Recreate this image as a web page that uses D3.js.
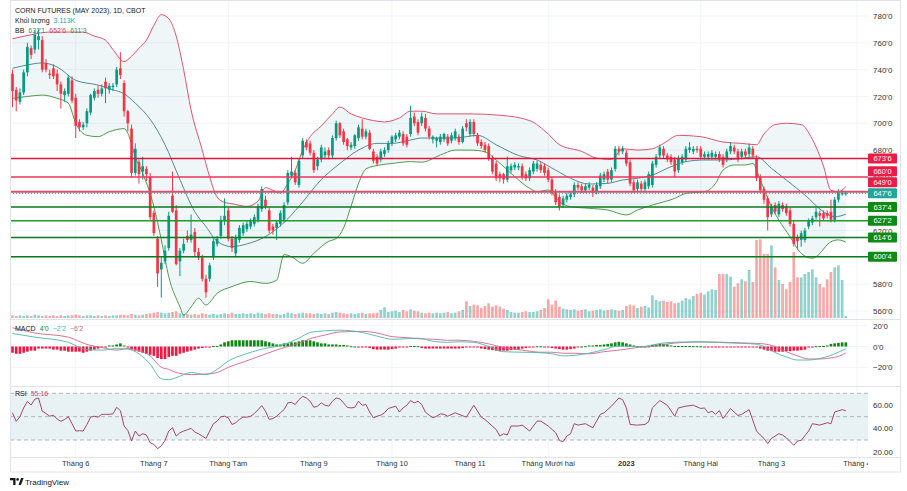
<!DOCTYPE html>
<html>
<head>
<meta charset="utf-8">
<script src="https://cdn.jsdelivr.net/npm/d3@7"></script>
<style>
  body { margin: 0; background: #fff; }
  svg { display: block; font-family: "Liberation Sans", Arial, sans-serif; }
</style>
</head>
<body>
<svg id="chart" width="907" height="491"></svg>
<script>
// ---- data (bar index 0 = 6 May 2022) ----
// [open, high, low, close]
const ohlc = [
  [737,740,712,724],[725,727,709,717],[716,726,714,723],[723,740,721,738],[738,760,735,757],
  [756,758,748,751],[755,769,752,766],[762,770,755,765],[762,765,738,740],[745,748,738,740],
  [737,740,733,736],[741,744,733,735],[737,740,724,729],[729,731,711,722],[721,726,716,724],
  [722,736,720,734],[732,735,715,717],[719,722,689,698],[701,703,694,697],[697,701,695,699],
  [700,711,697,709],[708,722,706,721],[719,726,717,724],[725,728,719,722],[722,729,720,726],
  [731,734,715,726],[725,730,722,728],[727,730,724,728],[729,742,727,740],[741,753,733,736],
  [730,732,705,709],[709,710,694,700],[696,699,660,663],[663,685,661,681],[671,673,655,662],
  [664,675,658,668],[666,668,657,662],[660,663,628,630],[633,635,616,618],[614,616,578,588],
  [591,600,570,596],[597,609,595,605],[607,634,605,631],[646,664,633,634],[635,639,594,595],
  [597,607,586,605],[605,614,603,610],[616,620,611,613],[613,632,611,617],[619,622,601,604],
  [604,607,598,600],[600,602,582,584],[584,587,570,574],[584,596,582,594],[600,614,598,612],
  [610,616,608,614],[616,631,614,628],[627,644,624,631],[635,637,612,614],[614,616,604,607],
  [603,617,600,615],[613,624,611,622],[618,626,616,624],[621,627,619,625],[623,629,621,627],
  [625,632,623,630],[628,640,626,638],[636,653,634,651],[643,646,636,638],[635,637,618,620],
  [623,625,617,620],[622,628,613,626],[625,635,623,633],[628,641,626,639],[641,665,639,663],
  [661,675,659,664],[663,665,654,656],[654,674,652,672],[676,689,674,687],[686,688,680,682],
  [685,687,676,678],[678,680,663,665],[668,675,665,673],[673,684,671,682],[676,682,673,679],
  [680,682,673,676],[676,691,674,689],[689,702,687,700],[700,701,689,691],[694,696,684,686],
  [688,689,680,683],[682,686,680,684],[683,692,681,691],[689,699,687,697],[696,703,688,690],
  [690,696,688,694],[693,695,680,681],[679,681,670,672],[675,677,668,670],[673,681,671,679],
  [677,682,675,680],[680,687,678,685],[685,691,683,690],[688,693,686,691],[690,695,688,693],
  [692,694,683,685],[690,692,682,684],[692,713,690,704],[705,708,698,700],[701,703,691,693],
  [700,708,698,705],[704,707,694,696],[696,698,688,690],[688,691,685,690],[687,690,682,689],
  [686,692,684,690],[688,693,686,692],[690,692,683,685],[687,693,685,691],[689,696,687,694],
  [690,692,684,686],[686,698,685,696],[700,703,694,697],[692,703,690,701],[701,703,690,692],
  [691,693,683,685],[686,688,681,683],[684,686,678,680],[683,685,672,674],[674,676,662,664],
  [670,672,657,659],[662,664,656,659],[662,663,655,658],[658,675,656,668],[665,670,663,668],
  [667,671,665,669],[667,670,665,668],[668,670,658,660],[662,664,657,659],[659,667,657,665],
  [664,672,662,670],[666,672,664,670],[669,671,663,665],[668,670,661,663],[665,667,656,658],
  [658,660,646,648],[649,651,639,641],[645,647,635,638],[639,646,637,644],[643,648,641,646],
  [645,649,643,647],[647,656,645,654],[654,656,650,652],[653,655,648,650],[650,655,648,653],
  [652,656,650,654],[652,654,645,648],[649,656,647,654],[653,663,651,661],[658,664,656,662],
  [664,666,655,658],[658,667,656,665],[666,683,664,681],[681,683,676,679],[679,683,677,681],
  [678,680,668,670],[671,673,653,655],[656,658,648,650],[651,658,649,656],[655,657,649,651],
  [651,658,649,656],[653,664,651,662],[654,672,652,670],[669,677,667,675],[676,684,674,682],
  [681,683,674,676],[676,678,671,673],[675,677,669,671],[673,675,660,664],[665,676,663,674],
  [671,677,669,675],[673,683,671,681],[680,686,678,682],[679,683,677,681],[681,683,678,680],
  [681,683,673,675],[675,679,673,677],[675,679,673,677],[675,680,673,678],[675,679,673,677],
  [677,679,671,673],[675,677,667,669],[673,681,671,679],[679,686,677,683],[682,684,677,679],
  [679,681,671,673],[675,681,673,679],[679,681,674,676],[677,685,675,682],[681,683,674,676],
  [674,676,657,659],[660,662,648,650],[651,653,640,643],[644,646,620,630],[632,640,630,638],
  [639,641,632,634],[632,642,630,640],[639,641,634,636],[638,640,631,633],[635,637,623,625],
  [625,627,608,610],[615,617,606,612],[613,620,608,618],[613,622,611,620],[623,629,621,627],
  [626,631,624,629],[630,637,628,634],[633,635,623,631],[633,635,627,629],[633,635,629,631],
  [634,643,626,628],[628,645,626,643],[643,651,641,649],[647,650,646,648],[647,649,646,647.75]
];

// volume, thousands of contracts
const volumes = [
  4,3,4,3,4,3,5,4,3,4,  3,4,3,4,3,4,4,5,4,3,  4,4,3,4,3,4,3,4,4,5,
  5,4,6,5,4,5,6,7,8,9,  8,7,8,9,10,7,6,6,5,6,  5,7,6,5,6,5,6,7,6,8,
  6,6,7,6,7,6,8,7,6,7,  6,6,5,6,8,7,6,7,8,7,  7,6,7,6,7,6,8,9,8,7,
  6,7,6,7,8,6,7,7,8,12, 16,9,10,11,9,12,10,13,11,10, 8,7,8,7,8,7,8,9,7,8,
  10,12,25,18,20,19,15,18,22,17, 19,17,14,12,9,8,8,9,10,9, 9,10,12,15,28,20,26,17,14,13,
  12,13,11,12,13,10,11,12,13,11, 12,13,12,11,12,18,20,19,15,17, 18,16,34,27,25,26,24,25,22,23,
  26,30,28,33,36,38,35,40,43,42, 66,66,66,62,47,52,58,55,72,54, 117,118,96,96,109,76,57,51,43,54,
  99,61,61,66,69,73,61,51,46,58, 69,76,79,57,3.113
];

// Bollinger Bands (20, 2): [bar index, value]
const bbUpper = [
  [0,763],[5,766],[10,768],[15,768],[19,768],[22,765],[25,762],[27,755],[30,746],[32,750],
  [34,756],[36,762],[38,773],[40,781],[42,778],[44,765],[46,740],[48,710],[51,680],[53,660],
  [55,645],[57,641],[59,640],[63,638],[66,642],[68,652],[70,650],[72,648],[74,655],[76,665],
  [78,680],[80,690],[83,698],[86,707],[88,712],[91,707],[94,704],[97,702],[100,701],[104,704],
  [107,709],[110,709],[114,707],[123,707],[131,706],[139,702],[144,692],[147,684],[153,679],
  [157,674],[161,673],[164,681],[168,680],[172,681],[175,685],[179,691],[185,690],[191,686],
  [196,685],[200,684],[202,692],[205,699],[208,700],[212,699],[215,688],[218,668],[220,650],
  [222,649],[224,652.75]
];
const bbBasis = [
  [0,741],[4,743.5],[8,745],[12,742],[17,732],[23,728.5],[27,725],[30,722],[33,715],[37,703],
  [41,684],[45,658],[49,634],[52,623],[55,612],[59,608],[63,610],[68,615.5],[73,626],[77,638],
  [83,658],[88,670],[93,680],[98,685],[102,685],[107,687.5],[110,689],[119,689],[125,691],
  [130,684],[136,676],[141,672.6],[146,665],[150,659],[155,654.7],[160,655.2],[164,657.7],
  [168,659],[172,661.4],[177,667.6],[181,671.4],[186,672.6],[191,672.6],[196,673.8],[200,675],
  [204,666.4],[208,657.7],[213,646.5],[218,634],[221,630.3],[224,632.125]
];
const bbLower = [
  [0,718.6],[4,720],[8,721],[12,718.6],[15,715],[17,700],[20,691],[23,690],[26,693.7],[30,696],
  [31,692.5],[33,675],[35,662.7],[38,637.8],[40,613],[42,585.6],[45,563.2],[46,557],[48,563],
  [50,569.5],[52,564.5],[55,573.2],[59,578.2],[64,582],[68,580.6],[71,583],[73,602],[75,600.5],
  [78,595.6],[81,603],[85,612],[87,614],[89,622],[91,638],[93,655],[95,666],[99,669],[102,670],
  [107,671.4],[110,671],[115,676.3],[119,680],[123,680],[127,678.8],[130,672.6],[135,660.2],
  [139,651.5],[141,649],[144,650.2],[147,641.5],[150,637.8],[155,636.6],[160,635.3],[165,631.6],
  [168,635.3],[172,639],[178,644],[181,647.7],[186,649],[189,655.2],[191,665.1],[194,668.9],
  [197,668.9],[199,670],[201,657.7],[204,637.8],[206,627.8],[209,615.4],[212,603],[215,599.3],
  [216,600.5],[220,611.7],[222,613],[224,611.375]
];

// MACD (12, 26, 9)
const macdLine = [
  [0,12.5],[6,9],[15,4],[20,-3],[24,-3.5],[28,-2],[31,-2.5],[34,-7],[37,-17],[40,-31],[42,-32],
  [44,-30],[48,-25],[52,-27],[55,-22],[58,-14],[62,-8],[67,-2.6],[73,2],[77,8],[80,13.5],
  [84,15],[88,15.7],[94,13.5],[98,10],[102,7],[106,7.5],[109,8],[113,5],[117,4],[120,4.5],
  [124,4],[128,0],[132,-5],[137,-5.5],[142,-6],[145,-7],[148,-9],[151,-8.5],[155,-6.4],
  [159,-3],[163,0.6],[166,0],[169,-0.3],[172,1.5],[176,3.8],[180,4.3],[184,4.5],[190,3.8],
  [196,3],[200,2.2],[202,0],[205,-5.8],[208,-10],[211,-13],[214,-13],[217,-11.5],[220,-8.5],
  [222,-5.5],[224,-2.25]
];
const signalLine = [
  [0,18],[6,13],[15,9],[20,2],[24,-1],[28,-3.5],[31,-2],[34,-4],[37,-9],[40,-20],[42,-22],
  [44,-25],[48,-27],[52,-26.5],[55,-25],[58,-20],[62,-15],[67,-8.5],[73,-1],[77,3],[80,7.5],
  [84,11],[88,14],[94,14.5],[98,13],[102,9.5],[106,8.5],[109,7.5],[113,7],[117,6],[120,6],
  [124,5],[128,2.5],[132,-1],[137,-3.5],[142,-5.5],[145,-5.5],[148,-6.5],[151,-6.5],[155,-7],
  [159,-5],[163,-3.5],[166,-2],[169,-0.5],[172,0],[176,2.5],[180,3.8],[184,4.3],[190,4.2],
  [196,3.5],[200,3],[202,2.5],[205,0],[208,-5],[211,-9],[214,-12],[217,-12],[220,-11],
  [222,-9.5],[224,-6.25]
];
const macdHist = [
  -6,-7,-7,-6,-5,-4,-4,-2,-2,-2,  -2,-3,-3,-4,-4,-5,-5,-5,-5,-6,  -5,-4,-3,-2,-1,-1,1,1,2,3,
  1,-1,-3,-4,-5,-6,-7,-8,-9,-11,  -12,-12,-10,-9,-9,-7,-6,-5,-4,-3,  -2,-1.5,-1,-0.5,0.5,0.5,2,4,5,6,
  6,6,6,6,6,6,6,6,5,4,  3,2,2,3,3,4,4,5,6,6,  6,5,4,3,3,2,2,2,1.5,1.5,
  1,0.3,0,-1,-1,-1,-1.5,-2.5,-3,-3,  -3,-3,-2.5,-2,-1,-1,-1,0.5,0.5,0.3,  -1.5,-2,-2,-2,-2,-2,-2,-2,-2,-2,
  -2,-1.5,-1,-1,-1,-1,-2,-2.5,-3,-3.5,  -4,-4.5,-4,-4,-3.5,-3,-3,-2,-1.5,-1,  -0.5,0.2,0.2,-0.2,-0.2,-1.5,-2,-2.5,-3,-3,
  -2.5,-2,-0.5,0,0.3,1,1,1.5,1.5,2,  2.5,3,4,4.5,4,3,2,1,0.3,0.2,  -0.2,0.2,1.5,2,2.5,2.5,2,1,0.5,0.5,
  0.5,0.5,0.5,0.3,0.3,0.2,-0.3,-0.5,-0.5,-0.5,  -0.5,-0.5,-0.5,-0.5,-0.5,-0.5,-0.5,-0.5,-0.5,-0.5,
  -1,-2,-3,-4,-4.5,-5,-5,-5,-4.5,-4.5,  -4,-4,-3.5,-3,-1,-0.5,0.3,0.5,0.5,1,  2.5,3,3.5,4,4
];

// RSI (14): daily readings for bars 0-117, then readings at given bars
const rsiDaily = [
  53.3,46,50,57.5,63,60,65,66,54.7,52.7,  50.4,51.3,48,46,47.6,50,44,37.7,38,37.7,
  43.3,49.6,50.4,49.6,52,52,52,52.4,58,55.2,  42,38.2,29.2,37.7,33.4,35.4,34.3,27.7,26.3,22.6,
  25,29.7,37.7,40.5,33.4,36.2,37.7,38.8,40,36.8,  35.4,33.4,31.4,37.7,44,46.2,49.9,50.4,49,43.3,
  44.8,47.6,49.6,49.6,50.4,52.7,56,59.5,54.7,47.6,  48.4,50.4,53.3,56,61.8,62.3,60.4,64.6,67.4,66,
  63.2,58,59,61.8,59.8,59,63.2,66,65.2,61.8,  58,57.5,58,63.2,59.8,60.4,54,49,50.4,51.3,
  53.3,57,58,59,54,57.5,59.8,63.8,61.8,63.2,  60.4,53.8,51.3,49,50.4,52.4,52,50.4
];
const rsiLater = [
  [119,53.3],[120,52],[122,49.6],[124,59.8],[126,49.6],[127,47.6],[130,39],[131,33.4],[132,35.4],
  [133,34.3],[134,42],[136,42],[137,42.8],[139,37.7],[141,46.2],[142,46.2],[144,42],[146,36.2],
  [147,29.7],[148,28.6],[149,33.4],[150,35.4],[151,44],[152,42.8],[154,44],[156,40.5],[158,52],
  [159,53.3],[161,59],[163,66],[164,64.6],[165,57.5],[166,43.3],[168,42.8],[170,43.3],[171,45.6],
  [172,57.5],[174,63.8],[176,59.8],[178,50.4],[179,57.5],[181,59],[183,59.8],[185,57],[186,57.5],
  [187,53.3],[188,54.7],[189,52],[190,55.2],[191,48.4],[193,57],[195,51],[196,52],[198,56],
  [200,37.7],[201,34.3],[202,31.4],[203,26.9],[204,31.4],[206,35.4],[207,34.3],[208,32],
  [210,25.5],[211,29.2],[212,29.7],[214,37.7],[215,44],[217,42.8],[219,44.8],[220,44],[221,54],
  [223,56],[224,55.16]
];

const resistanceLevels = [673.75, 660, 649];
const supportLevels = [637.5, 627.25, 614.75, 600.5];
const lastPrice = 647.75;

const priceTicks = [560, 580, 600, 620, 640, 660, 680, 700, 720, 740, 760, 780];
const macdTicks = [20, 0, -20];
const rsiTicks = [60, 40, 20];
const monthStarts = [17, 38, 58, 81, 102, 123, 144, 165, 185, 204, 227];
const monthLabels = ["Tháng 6", "Tháng 7", "Tháng Tám", "Tháng 9", "Tháng 10", "Tháng 11",
  "Tháng Mười hai", "2023", "Tháng Hai", "Tháng 3", "Tháng 4"];
const gridMonths = [17, 58, 102, 144, 185, 227];

// ---- layout ----
const left = 10, plotRight = 868, right = 900;
const mainTop = 0, mainBottom = 319.5, macdBottom = 386.5, rsiBottom = 457.5, timeBottom = 472;
const UP = "#089981", DOWN = "#f23645";

const svg = d3.select("#chart");
const x = d3.scaleLinear().domain([0, 227]).range([12.5, 857]);
const yPrice = d3.scaleLinear().domain([560, 780]).range([311, 16]);
const yVol = d3.scaleLinear().domain([0, 120]).range([318, 238]);
const yMacd = d3.scaleLinear().domain([-20, 20]).range([367.3, 325.7]);
const yRsi = d3.scaleLinear().domain([20, 60]).range([451.7, 405]);
const bodyW = 2.7;

function fmt8(v) {
  const sign = v < 0 ? "\u2212" : "";
  const a = Math.abs(v);
  let whole = Math.floor(a), e = Math.round((a - whole) * 8);
  if (e === 8) { whole += 1; e = 0; }
  return sign + whole + "'" + e;
}

const defs = svg.append("defs");
function clip(id, y0, y1) {
  defs.append("clipPath").attr("id", id).append("rect")
    .attr("x", left).attr("y", y0).attr("width", plotRight - left).attr("height", y1 - y0);
  return "url(#" + id + ")";
}
const clipMain = clip("cMain", mainTop, mainBottom);
const clipMacd = clip("cMacd", mainBottom, macdBottom);
const clipRsi = clip("cRsi", macdBottom, rsiBottom);
const clipTime = clip("cTime", rsiBottom, timeBottom);
const clipFrame = clip("cFrame", 0, rsiBottom);

// grid
const grid = svg.append("g").attr("stroke", "#f0f3fa").attr("stroke-width", 1);
grid.selectAll("line.h").data(priceTicks).join("line")
  .attr("x1", left).attr("x2", plotRight)
  .attr("y1", d => yPrice(d)).attr("y2", d => yPrice(d));
grid.append("g").selectAll("line").data(macdTicks).join("line")
  .attr("x1", left).attr("x2", plotRight)
  .attr("y1", d => yMacd(d)).attr("y2", d => yMacd(d));
grid.append("g").attr("clip-path", clipFrame).selectAll("line").data(gridMonths).join("line")
  .attr("x1", d => x(d)).attr("x2", d => x(d))
  .attr("y1", mainTop).attr("y2", rsiBottom);

// ---- main pane ----
const main = svg.append("g").attr("clip-path", clipMain);

const lineBB = d3.line().x(d => x(d[0])).y(d => yPrice(d[1])).curve(d3.curveMonotoneX);
const fillPts = bbUpper.concat(bbLower.slice().reverse());
main.append("path")
  .attr("d", d3.line().x(d => x(d[0])).y(d => yPrice(d[1])).curve(d3.curveLinearClosed)(fillPts))
  .attr("fill", "rgba(38,140,160,0.08)");

main.selectAll("rect.vol").data(volumes).join("rect")
  .attr("x", (d, i) => x(i) - bodyW / 2).attr("width", bodyW)
  .attr("y", d => yVol(d)).attr("height", d => yVol(0) - yVol(d))
  .attr("fill", (d, i) => ohlc[i][3] >= ohlc[i][0] ? "rgba(38,166,154,0.5)" : "rgba(239,83,80,0.5)");

main.append("path").attr("d", lineBB(bbUpper)).attr("fill", "none").attr("stroke", "#e0405c").attr("stroke-width", 0.9);
main.append("path").attr("d", lineBB(bbLower)).attr("fill", "none").attr("stroke", "#3f8f3a").attr("stroke-width", 0.9);
main.append("path").attr("d", lineBB(bbBasis)).attr("fill", "none").attr("stroke", "#3f7f86").attr("stroke-width", 0.9);

const candles = main.append("g");
candles.selectAll("line").data(ohlc).join("line")
  .attr("x1", (d, i) => x(i)).attr("x2", (d, i) => x(i))
  .attr("y1", d => yPrice(d[1])).attr("y2", d => yPrice(d[2]))
  .attr("stroke", d => d[3] >= d[0] ? UP : DOWN).attr("stroke-width", 1);
candles.selectAll("rect").data(ohlc).join("rect")
  .attr("x", (d, i) => x(i) - bodyW / 2).attr("width", bodyW)
  .attr("y", d => yPrice(Math.max(d[0], d[3])))
  .attr("height", d => Math.max(1, Math.abs(yPrice(d[0]) - yPrice(d[3]))))
  .attr("fill", d => d[3] >= d[0] ? UP : DOWN);

// level lines
const levelStroke = { 673.75: "#e0143c", 660: "#f03558", 649: "#d9506e" };
const supportStroke = { 637.5: "#0b7a18", 627.25: "#1f9a2e", 614.75: "#0b7a18", 600.5: "#0b7a18" };
svg.append("line")
  .attr("x1", left).attr("x2", plotRight).attr("y1", yPrice(lastPrice)).attr("y2", yPrice(lastPrice))
  .attr("stroke", "#22a59a").attr("stroke-width", 1).attr("stroke-dasharray", "1,2");
svg.selectAll("line.res").data(resistanceLevels).join("line")
  .attr("x1", left).attr("x2", plotRight)
  .attr("y1", d => yPrice(d)).attr("y2", d => yPrice(d))
  .attr("stroke", d => levelStroke[d]).attr("stroke-width", d => d === 649 ? 2 : 1.5);
svg.selectAll("line.sup").data(supportLevels).join("line")
  .attr("x1", left).attr("x2", plotRight)
  .attr("y1", d => yPrice(d)).attr("y2", d => yPrice(d))
  .attr("stroke", d => supportStroke[d]).attr("stroke-width", 1.5);

// ---- MACD pane ----
const macdG = svg.append("g").attr("clip-path", clipMacd);
macdG.selectAll("rect").data(macdHist).join("rect")
  .attr("x", (d, i) => x(i) - bodyW / 2).attr("width", bodyW)
  .attr("y", d => d >= 0 ? yMacd(d) : yMacd(0))
  .attr("height", d => Math.max(1, Math.abs(yMacd(d) - yMacd(0))))
  .attr("fill", d => d >= 0 ? "#0f8a16" : "#ee1a42");
const lineMacd = d3.line().x(d => x(d[0])).y(d => yMacd(d[1])).curve(d3.curveMonotoneX);
macdG.append("path").attr("d", lineMacd(signalLine)).attr("fill", "none").attr("stroke", "#d0668a").attr("stroke-width", 0.9);
macdG.append("path").attr("d", lineMacd(macdLine)).attr("fill", "none").attr("stroke", "#4cb6ac").attr("stroke-width", 0.9);

// ---- RSI pane ----
const rsiG = svg.append("g").attr("clip-path", clipRsi);
rsiG.append("rect").attr("x", left).attr("width", plotRight - left)
  .attr("y", yRsi(70)).attr("height", yRsi(30) - yRsi(70)).attr("fill", "#e8f1f3");
rsiG.selectAll("line").data([70, 50, 30]).join("line")
  .attr("x1", left).attr("x2", plotRight).attr("y1", d => yRsi(d)).attr("y2", d => yRsi(d))
  .attr("stroke", "#a3a6ae").attr("stroke-width", 0.8).attr("stroke-dasharray", "4,3");
const rsiPoints = rsiDaily.map((v, i) => [i, v]).concat(rsiLater);
rsiG.append("path")
  .attr("d", d3.line().x(d => x(d[0])).y(d => yRsi(d[1]))(rsiPoints))
  .attr("fill", "none").attr("stroke", "#a5466f").attr("stroke-width", 1);

// ---- frame & separators ----
const frame = svg.append("g").attr("stroke", "#e0e3eb").attr("fill", "none");
frame.append("rect").attr("x", left + 0.5).attr("y", 0.5).attr("width", right - left).attr("height", timeBottom - 0.5);
frame.selectAll("line").data([mainBottom, macdBottom, rsiBottom]).join("line")
  .attr("x1", left).attr("x2", right + 0.5).attr("y1", d => d).attr("y2", d => d);

// level labels on the price scale, stacked upward when they collide
const boxH = 11;
const tags = resistanceLevels.map(p => ({ p, fill: "#ec1a44" }))
  .concat([{ p: lastPrice, fill: "#22a59a" }])
  .concat(supportLevels.map(p => ({ p, fill: "#0f8a14" })))
  .map(t => Object.assign(t, { y: yPrice(t.p) }))
  .sort((a, b) => b.y - a.y);
tags.forEach((t, i) => { if (i > 0) t.y = Math.min(t.y, tags[i - 1].y - boxH); });

// ---- price axes (ticks fully hidden under a label are dropped) ----
function rightAxis(scale, ticks, fmt) {
  const g = svg.append("g").attr("transform", "translate(873,0)")
    .call(d3.axisRight(scale).tickValues(ticks).tickFormat(fmt).tickSize(0).tickPadding(0));
  g.select(".domain").remove();
  g.selectAll("text").attr("font-size", 8).attr("fill", "#333").attr("font-family", "Liberation Sans, Arial, sans-serif");
}
const visiblePriceTicks = priceTicks.filter(p => !tags.some(t => Math.abs(t.y - yPrice(p)) < 5));
rightAxis(yPrice, visiblePriceTicks, fmt8);
rightAxis(yMacd, macdTicks, fmt8);
rightAxis(yRsi, rsiTicks, d => d.toFixed(2));

const tagG = svg.append("g");
tagG.selectAll("rect").data(tags).join("rect")
  .attr("x", 868).attr("y", d => d.y - boxH / 2 + 0.5).attr("width", 29).attr("height", boxH - 1)
  .attr("rx", 1).attr("fill", d => d.fill);
tagG.selectAll("text").data(tags).join("text")
  .attr("x", 882.5).attr("y", d => d.y).attr("dy", "0.35em").attr("text-anchor", "middle")
  .attr("font-size", 7.5).attr("fill", "#fff").text(d => fmt8(d.p));

// ---- time axis ----
svg.append("g").attr("clip-path", clipTime)
  .selectAll("text").data(monthStarts).join("text")
  .attr("x", d => x(d)).attr("y", 466).attr("text-anchor", "middle")
  .attr("font-size", 7.5).attr("fill", "#333")
  .attr("font-weight", (d, i) => monthLabels[i] === "2023" ? "bold" : "normal")
  .text((d, i) => monthLabels[i]);

// ---- legends ----
const leg = svg.append("g").attr("font-size", 7);
leg.append("text").attr("x", 15).attr("y", 13).attr("fill", "#131722").text("CORN FUTURES (MAY 2023), 1D, CBOT");
const volRow = leg.append("text").attr("x", 15).attr("y", 23);
volRow.append("tspan").attr("fill", "#131722").text("Khối lượng");
volRow.append("tspan").attr("dx", 4).attr("fill", "#26a69a").text(d3.format(".3f")(volumes[volumes.length - 1]) + "K");
const bbRow = leg.append("text").attr("x", 15).attr("y", 33);
bbRow.append("tspan").attr("fill", "#131722").text("BB");
bbRow.append("tspan").attr("dx", 4).attr("fill", "#2f8f8f").text(fmt8(bbBasis[bbBasis.length - 1][1]));
bbRow.append("tspan").attr("dx", 4).attr("fill", "#e0405c").text(fmt8(bbUpper[bbUpper.length - 1][1]));
bbRow.append("tspan").attr("dx", 4).attr("fill", "#3f8f3a").text(fmt8(bbLower[bbLower.length - 1][1]));

const macdRow = leg.append("text").attr("x", 15).attr("y", 331);
macdRow.append("tspan").attr("fill", "#131722").text("MACD");
macdRow.append("tspan").attr("dx", 4).attr("fill", "#0f8a16").text(fmt8(macdHist[macdHist.length - 1]));
macdRow.append("tspan").attr("dx", 4).attr("fill", "#4cb6ac").text(fmt8(macdLine[macdLine.length - 1][1]));
macdRow.append("tspan").attr("dx", 4).attr("fill", "#d0668a").text(fmt8(signalLine[signalLine.length - 1][1]));

const rsiRow = leg.append("text").attr("x", 15).attr("y", 396);
rsiRow.append("tspan").attr("fill", "#131722").text("RSI");
rsiRow.append("tspan").attr("dx", 4).attr("fill", "#c0507a").text(rsiLater[rsiLater.length - 1][1].toFixed(2));

// ---- TradingView mark ----
const logo = svg.append("g").attr("fill", "#131722");
logo.append("path").attr("d", "M10,478h5.5v7h-2.3v-4.8h-3.2z");
logo.append("circle").attr("cx", 17.6).attr("cy", 479.4).attr("r", 1.3);
logo.append("path").attr("d", "M18.5,485l2.6,-7h2.5l-2.6,7z");
logo.append("text").attr("x", 25).attr("y", 485).attr("font-size", 8).text("TradingView");
</script>
</body>
</html>
